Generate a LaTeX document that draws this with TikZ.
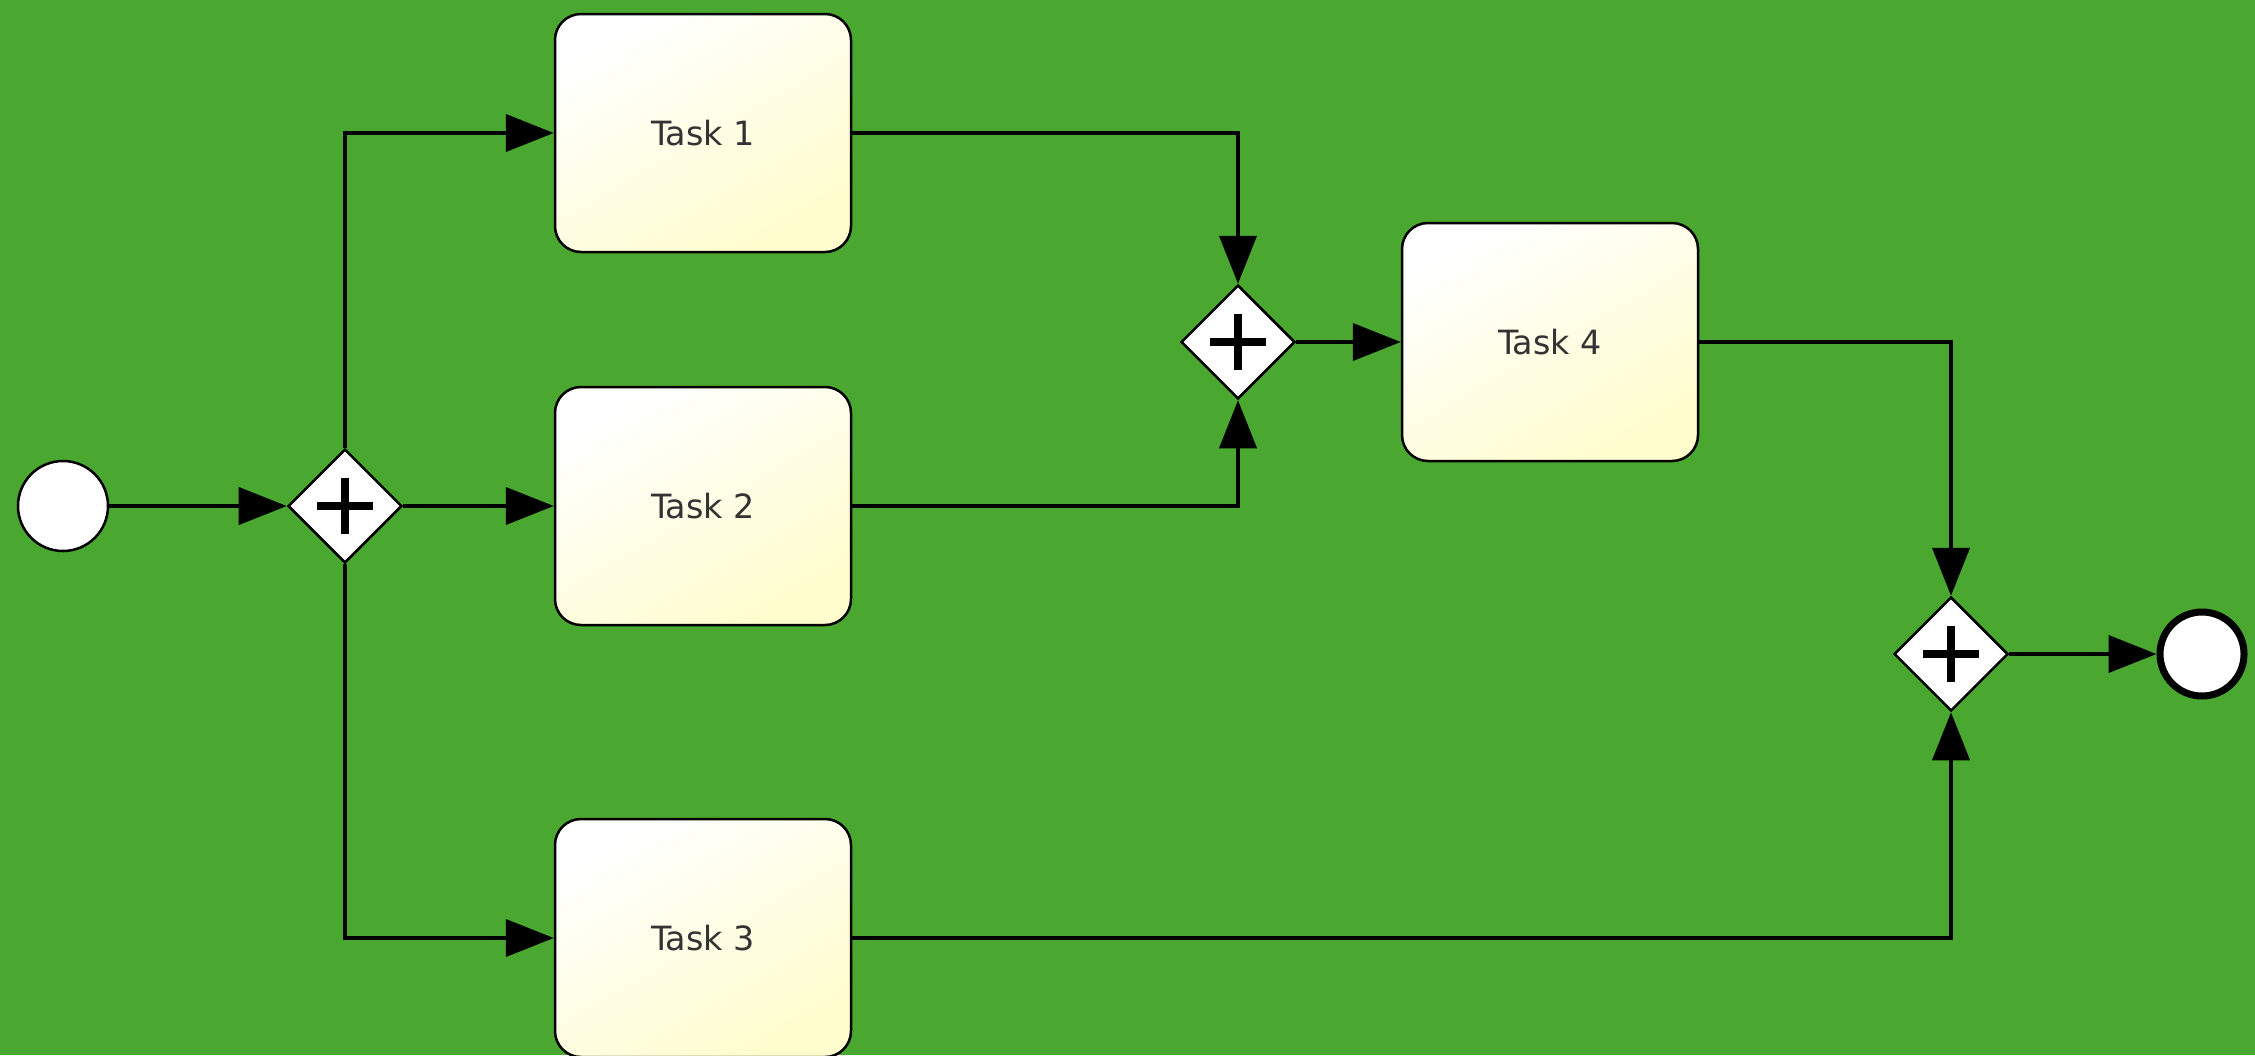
\documentclass[tikz,border=0pt]{standalone}
\usepackage{fontspec}
\setmainfont{DejaVu Sans}
\usetikzlibrary{arrows.meta}
\usetikzlibrary{shapes.geometric}
\definecolor{bggreen}{RGB}{74,167,47}
\definecolor{taskyellow}{RGB}{255,253,205}

\begin{document}
\begin{tikzpicture}[
	task/.style={draw,line width=0.025cm,rounded corners=0.26cm,minimum width=2.96cm,minimum height=2.38cm,top color=white,bottom color=taskyellow,shading angle=30,font=\fontsize{9.5}{11}\selectfont,text=black!80},
	gate/.style={diamond,draw,line width=0.025cm,fill=white,minimum size=1.14cm,inner sep=0pt,
		path picture={
			\draw[line width=0.085cm] ([xshift=-0.28cm]path picture bounding box.center) -- ([xshift=0.28cm]path picture bounding box.center);
			\draw[line width=0.085cm] ([yshift=-0.28cm]path picture bounding box.center) -- ([yshift=0.28cm]path picture bounding box.center);}},
	flow/.style={line width=0.04cm,-{Triangle[length=0.48cm,width=0.37cm]}}
]
	\fill[bggreen] (0,0) rectangle (22.55,10.55);
	\useasboundingbox (0,0) rectangle (22.55,10.55);

	\node[circle,draw,line width=0.025cm,fill=white,minimum size=0.9cm,inner sep=0pt] (start) at (0.63,5.49) {};
	\node[gate] (gwsplit) at (3.45,5.49) {};
	\node[task] (task1) at (7.03,9.22) {Task 1};
	\node[task] (task2) at (7.03,5.49) {Task 2};
	\node[task] (task3) at (7.03,1.17) {Task 3};
	\node[gate] (gwjoin) at (12.38,7.13) {};
	\node[task] (task4) at (15.50,7.13) {Task 4};
	\node[gate] (gwend) at (19.51,4.01) {};
	\node[circle,draw,line width=0.07cm,fill=white,minimum size=0.84cm,inner sep=0pt] (end) at (22.02,4.01) {};

	\draw[flow] (start) -- (gwsplit);
	\draw[flow] (gwsplit.north) |- (task1.west);
	\draw[flow] (gwsplit) -- (task2);
	\draw[flow] (gwsplit.south) |- (task3.west);
	\draw[flow] (task1.east) -| (gwjoin.north);
	\draw[flow] (task2.east) -| (gwjoin.south);
	\draw[flow] (gwjoin) -- (task4);
	\draw[flow] (task4.east) -| (gwend.north);
	\draw[flow] (task3.east) -| (gwend.south);
	\draw[flow] (gwend) -- (end);
\end{tikzpicture}
\end{document}
